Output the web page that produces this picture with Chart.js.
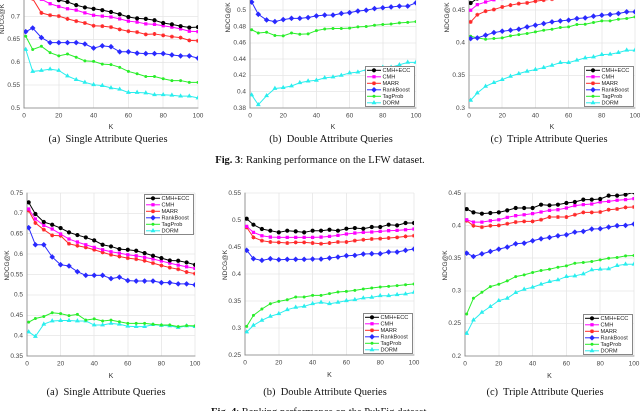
<!DOCTYPE html>
<html><head><meta charset="utf-8">
<script src="https://cdn.jsdelivr.net/npm/chart.js@4.4.1/dist/chart.umd.min.js"></script>
<style>
html,body{margin:0;padding:0;background:#fff;width:640px;height:411px;overflow:hidden;position:relative;}
canvas{position:absolute;}
.cap{position:absolute;font-family:"Liberation Serif","Times New Roman",serif;font-size:10.5px;color:#111;white-space:nowrap;transform:translate(-50%,-50%);z-index:5;}
</style></head><body>
<canvas id="c1"></canvas><canvas id="c2"></canvas><canvas id="c3"></canvas>
<canvas id="c4"></canvas><canvas id="c5"></canvas><canvas id="c6"></canvas>
<div class="cap" style="left:108px;top:138px">(a)&nbsp; Single Attribute Queries</div>
<div class="cap" style="left:331px;top:138px">(b)&nbsp; Double Attribute Queries</div>
<div class="cap" style="left:549px;top:138px">(c)&nbsp; Triple Attribute Queries</div>
<div class="cap" style="left:320px;top:159px"><b>Fig. 3</b>: Ranking performance on the LFW dataset.</div>
<div class="cap" style="left:106px;top:391px">(a)&nbsp; Single Attribute Queries</div>
<div class="cap" style="left:325px;top:391px">(b)&nbsp; Double Attribute Queries</div>
<div class="cap" style="left:545px;top:391px">(c)&nbsp; Triple Attribute Queries</div>
<div class="cap" style="left:320px;top:411px"><b>Fig. 4</b>: Ranking performance on the PubFig dataset.</div>
<script>
const K = [1,5,10,15,20,25,30,35,40,45,50,55,60,65,70,75,80,85,90,95,100];
const xTicks = [0,20,40,60,80,100];
const seriesNames = ['CMH+ECC','CMH','MARR','RankBoost','TagProb','DORM'];

// Fig.3 LFW - single
const lfwSingleCmhEcc = [0.800,0.775,0.757,0.745,0.736,0.732,0.725,0.720,0.717,0.714,0.710,0.705,0.699,0.696,0.695,0.692,0.686,0.683,0.679,0.676,0.677];
const lfwSingleCmh = [0.780,0.755,0.738,0.728,0.722,0.717,0.714,0.708,0.703,0.701,0.699,0.695,0.690,0.688,0.684,0.683,0.680,0.677,0.673,0.668,0.667];
const lfwSingleMarr = [0.768,0.739,0.708,0.703,0.701,0.695,0.690,0.686,0.680,0.679,0.677,0.672,0.668,0.666,0.661,0.662,0.659,0.656,0.654,0.648,0.647];
const lfwSingleRankBoost = [0.667,0.675,0.654,0.643,0.643,0.643,0.643,0.640,0.631,0.636,0.634,0.623,0.623,0.620,0.619,0.619,0.619,0.616,0.614,0.614,0.609];
const lfwSingleTagProb = [0.657,0.628,0.635,0.621,0.614,0.618,0.611,0.603,0.602,0.596,0.595,0.589,0.580,0.575,0.569,0.569,0.564,0.560,0.560,0.556,0.556];
const lfwSingleDorm = [0.628,0.580,0.582,0.585,0.582,0.570,0.562,0.556,0.551,0.549,0.544,0.541,0.534,0.534,0.533,0.529,0.529,0.528,0.526,0.526,0.522];
const lfwSingleYTicks = [0.5,0.55,0.6,0.65,0.7,0.75,0.8,0.85];

// Fig.3 LFW - double
const lfwDoubleCmhEcc = [0.565,0.555,0.548,0.546,0.547,0.548,0.549,0.550,0.551,0.552,0.553,0.554,0.555,0.556,0.557,0.558,0.559,0.560,0.561,0.562,0.564];
const lfwDoubleCmh = [0.557,0.547,0.540,0.538,0.539,0.540,0.541,0.542,0.543,0.544,0.545,0.546,0.547,0.548,0.549,0.550,0.551,0.552,0.553,0.554,0.556];
const lfwDoubleMarr = [0.550,0.540,0.533,0.531,0.532,0.533,0.534,0.535,0.536,0.537,0.538,0.539,0.540,0.541,0.542,0.543,0.544,0.545,0.546,0.547,0.549];
const lfwDoubleRankBoost = [0.510,0.495,0.488,0.486,0.4885,0.490,0.490,0.491,0.493,0.494,0.494,0.496,0.497,0.499,0.500,0.502,0.503,0.504,0.505,0.505,0.509];
const lfwDoubleTagProb = [0.476,0.472,0.473,0.469,0.4685,0.472,0.4705,0.471,0.475,0.477,0.4775,0.4775,0.478,0.4795,0.480,0.4816,0.4824,0.483,0.4844,0.485,0.486];
const lfwDoubleDorm = [0.396,0.384,0.395,0.404,0.405,0.407,0.411,0.413,0.414,0.417,0.418,0.420,0.423,0.424,0.427,0.4275,0.430,0.430,0.433,0.436,0.436];
const lfwDoubleYTicks = [0.38,0.4,0.42,0.44,0.46,0.48,0.5,0.52,0.54,0.56,0.58];

// Fig.3 LFW - triple
const lfwTripleCmhEcc = [0.461,0.468,0.472,0.475,0.477,0.479,0.481,0.483,0.485,0.487,0.488,0.489,0.490,0.492,0.493,0.494,0.496,0.497,0.498,0.499,0.500];
const lfwTripleCmh = [0.450,0.4585,0.4625,0.466,0.468,0.470,0.472,0.474,0.476,0.477,0.478,0.480,0.481,0.482,0.484,0.485,0.486,0.487,0.488,0.489,0.490];
const lfwTripleMarr = [0.432,0.443,0.4485,0.451,0.455,0.4577,0.460,0.4613,0.4638,0.4654,0.467,0.469,0.470,0.472,0.473,0.474,0.476,0.477,0.478,0.479,0.481];
const lfwTripleRankBoost = [0.4065,0.4075,0.4116,0.4157,0.4178,0.4193,0.4208,0.4244,0.427,0.4295,0.4321,0.4336,0.4347,0.4372,0.4382,0.4408,0.4423,0.4434,0.4449,0.4475,0.4475];
const lfwTripleTagProb = [0.410,0.4075,0.4055,0.4065,0.4075,0.4106,0.4126,0.4142,0.4167,0.4193,0.4208,0.4234,0.4244,0.428,0.4285,0.4311,0.4336,0.4336,0.4362,0.4372,0.4398];
const lfwTripleDorm = [0.3118,0.323,0.3333,0.3389,0.3435,0.3486,0.3527,0.3563,0.3589,0.362,0.3655,0.3696,0.3696,0.3732,0.3768,0.3783,0.3819,0.3824,0.385,0.3886,0.3886];
const lfwTripleYTicks = [0.3,0.35,0.4,0.45,0.5,0.55];

// Fig.4 PubFig - single
const pubSingleCmhEcc = [0.727,0.6985,0.6788,0.6722,0.664,0.6534,0.6468,0.641,0.6337,0.623,0.6189,0.6124,0.6107,0.6083,0.6025,0.596,0.5902,0.5845,0.5837,0.5796,0.5738];
const pubSingleCmh = [0.7108,0.6862,0.6706,0.6616,0.6493,0.637,0.6296,0.623,0.6165,0.6107,0.6058,0.6025,0.5984,0.596,0.592,0.588,0.583,0.578,0.573,0.569,0.565];
const pubSingleMarr = [0.7067,0.6763,0.66,0.646,0.6452,0.6255,0.6206,0.6165,0.6107,0.6042,0.5984,0.5943,0.5902,0.5878,0.5837,0.578,0.572,0.567,0.563,0.556,0.552];
const pubSingleRankBoost = [0.665,0.623,0.623,0.593,0.574,0.571,0.557,0.548,0.548,0.548,0.540,0.5435,0.535,0.534,0.534,0.534,0.530,0.530,0.527,0.527,0.5246];
const pubSingleTagProb = [0.433,0.442,0.447,0.456,0.454,0.449,0.452,0.438,0.441,0.436,0.438,0.434,0.430,0.430,0.430,0.428,0.426,0.426,0.422,0.4246,0.4238];
const pubSingleDorm = [0.409,0.398,0.428,0.436,0.437,0.437,0.436,0.436,0.426,0.426,0.430,0.428,0.423,0.422,0.422,0.427,0.425,0.424,0.420,0.424,0.422];
const pubSingleYTicks = [0.35,0.4,0.45,0.5,0.55,0.6,0.65,0.7,0.75];

// Fig.4 PubFig - double
const pubDoubleCmhEcc = [0.5024,0.4913,0.4833,0.4802,0.4771,0.4802,0.4789,0.4771,0.4802,0.4802,0.482,0.4802,0.4839,0.4851,0.4839,0.487,0.487,0.4913,0.49,0.4944,0.4944];
const pubDoubleCmh = [0.4882,0.4771,0.4709,0.4684,0.4678,0.4678,0.4678,0.4678,0.4678,0.4684,0.4697,0.4715,0.474,0.4758,0.4771,0.4777,0.4789,0.4802,0.4808,0.482,0.4833];
const pubDoubleMarr = [0.4863,0.4678,0.4617,0.4592,0.4586,0.4573,0.4586,0.4586,0.4573,0.4561,0.4573,0.4592,0.4592,0.4617,0.4635,0.4648,0.4654,0.4666,0.4678,0.4697,0.4709];
const pubDoubleRankBoost = [0.4438,0.4283,0.4253,0.4283,0.4265,0.4271,0.4271,0.4271,0.4277,0.4277,0.4296,0.4314,0.4339,0.4345,0.437,0.4376,0.4376,0.4407,0.4407,0.4438,0.4462];
const pubDoubleTagProb = [0.3031,0.3234,0.3352,0.345,0.3494,0.3524,0.3574,0.3574,0.3605,0.3605,0.3636,0.3666,0.3679,0.3697,0.3722,0.374,0.3759,0.3771,0.3784,0.3802,0.3814];
const pubDoubleDorm = [0.2926,0.3049,0.3142,0.3216,0.3265,0.3339,0.3383,0.3401,0.345,0.3475,0.345,0.3475,0.3506,0.3524,0.3555,0.3568,0.3598,0.3598,0.3617,0.3629,0.366];
const pubDoubleYTicks = [0.25,0.3,0.35,0.4,0.45,0.5,0.55];

// Fig.4 PubFig - triple
const pubTripleCmhEcc = [0.4254,0.4203,0.4183,0.4193,0.4203,0.4234,0.427,0.427,0.427,0.4321,0.4311,0.4321,0.4347,0.4362,0.4398,0.4398,0.4408,0.446,0.446,0.4475,0.4511];
const pubTripleCmh = [0.409,0.4054,0.4054,0.4075,0.409,0.4126,0.4152,0.4167,0.4183,0.4208,0.4234,0.4244,0.427,0.4306,0.4321,0.4331,0.4362,0.4372,0.4388,0.4398,0.4413];
const pubTripleMarr = [0.4075,0.3998,0.3977,0.3998,0.4003,0.4029,0.4054,0.4065,0.4065,0.409,0.4131,0.4131,0.4131,0.4167,0.4203,0.4203,0.4208,0.4244,0.4254,0.428,0.4285];
const pubTripleRankBoost = [0.3577,0.3526,0.3567,0.3603,0.3639,0.367,0.3721,0.3731,0.3767,0.3798,0.3818,0.3844,0.3859,0.39,0.3911,0.3947,0.3952,0.3977,0.3998,0.4003,0.4024];
const pubTripleTagProb = [0.2644,0.2885,0.2977,0.3064,0.31,0.3152,0.3218,0.3244,0.328,0.3311,0.3331,0.3362,0.3382,0.3423,0.3434,0.3449,0.3475,0.35,0.3511,0.3536,0.3541];
const pubTripleDorm = [0.2346,0.2551,0.2669,0.2757,0.2849,0.2885,0.2972,0.3023,0.3054,0.31,0.3141,0.3167,0.3218,0.3228,0.3259,0.3321,0.3331,0.3336,0.3387,0.3408,0.3408];
const pubTripleYTicks = [0.2,0.25,0.3,0.35,0.4,0.45];

// styles
const seriesColors = ['#000000','#ff00ff','#ff2a2a','#2a2aff','#2aee2a','#2aeeee'];
const markerStyles = ['circle','rect','star','rectRot','circle','triangle'];
const markerRadius = [1.6,1.6,2,2.1,1,1.8];

const FONT = '"Liberation Sans", Arial, sans-serif';

const boxLegend = {
  id: 'boxLegend',
  afterDatasetsDraw(chart, args, opts) {
    const ctx = chart.ctx, ca = chart.chartArea;
    const w = 50, h = 41;
    const x = ca.right - w - 1;
    const y = opts.corner === 'tr' ? ca.top + 1 : ca.bottom - h - 1;
    ctx.save();
    ctx.fillStyle = '#fff';
    ctx.fillRect(x, y, w, h);
    ctx.strokeStyle = '#555';
    ctx.lineWidth = 0.7;
    ctx.strokeRect(x + 0.5, y + 0.5, w - 1, h - 1);
    chart.data.datasets.forEach((ds, i) => {
      const cy = y + 4.3 + i * 6.5;
      ctx.strokeStyle = ds.borderColor;
      ctx.fillStyle = ds.borderColor;
      ctx.lineWidth = 1;
      ctx.beginPath(); ctx.moveTo(x + 2, cy); ctx.lineTo(x + 16, cy); ctx.stroke();
      Chart.helpers.drawPoint(ctx, {pointStyle: ds.pointStyle, radius: ds.pointRadius, borderWidth: 1, rotation: 0}, x + 9, cy);
      ctx.fillStyle = '#222';
      ctx.font = '5.6px ' + FONT;
      ctx.textBaseline = 'middle';
      ctx.textAlign = 'left';
      ctx.fillText(ds.label, x + 17.5, cy + 0.3);
    });
    ctx.restore();
  }
};

const axisTitles = {
  id: 'axisTitles',
  afterDraw(chart, args, opts) {
    const ctx = chart.ctx, ca = chart.chartArea;
    ctx.save();
    ctx.fillStyle = '#333';
    ctx.font = '7px ' + FONT;
    ctx.textAlign = 'center';
    ctx.textBaseline = 'middle';
    ctx.fillText('K', (ca.left + ca.right) / 2, ca.bottom + opts.kOffset);
    ctx.font = '6.5px ' + FONT;
    ctx.translate(ca.left - opts.yOffset, (ca.top + ca.bottom) / 2 - 9);
    ctx.rotate(-Math.PI / 2);
    ctx.fillText('NDCG@K', 0, 0);
    ctx.restore();
  }
};

function makeChart(id, P) {
  const cv = document.getElementById(id);
  const W = P.R - P.L + 46, H = P.B - P.T + 34;
  cv.width = W; cv.height = H;
  cv.style.left = (P.L - 40) + 'px';
  cv.style.top = (P.T - 4) + 'px';
  cv.style.width = W + 'px';
  cv.style.height = H + 'px';
  const datasets = P.series.map((arr, i) => ({
    label: seriesNames[i],
    data: K.map((k, j) => ({x: k, y: arr[j]})),
    borderColor: seriesColors[i],
    backgroundColor: seriesColors[i],
    borderWidth: 1,
    pointStyle: markerStyles[i],
    pointRadius: markerRadius[i],
    pointBorderWidth: 1,
    pointHoverRadius: markerRadius[i],
    tension: 0
  }));
  const fixFit = (w, h) => (s) => {
    if (w !== null) s.width = w;
    if (h !== null) s.height = h;
    s.paddingLeft = 0; s.paddingRight = 0; s.paddingTop = 0; s.paddingBottom = 0;
  };
  const tickFmt = (v) => String(parseFloat(Number(v).toFixed(3)));
  new Chart(cv, {
    type: 'line',
    data: {datasets},
    options: {
      responsive: false,
      animation: false,
      devicePixelRatio: 2,
      events: [],
      layout: {padding: {left: 0, top: 4, right: 6, bottom: 0}},
      plugins: {
        legend: {display: false},
        tooltip: {enabled: false},
        boxLegend: {corner: P.corner},
        axisTitles: {kOffset: P.kOff, yOffset: P.yOff}
      },
      scales: {
        x: {
          type: 'linear', min: 0, max: 100,
          afterBuildTicks: (s) => { s.ticks = xTicks.map(v => ({value: v})); },
          afterFit: fixFit(null, 30),
          grid: {color: '#e6e6e6', lineWidth: 0.8, drawTicks: false},
          border: {display: true, color: '#808080', width: 0.8},
          ticks: {font: {family: FONT, size: 6.5}, color: '#444', padding: 4, maxRotation: 0, autoSkip: false, callback: tickFmt}
        },
        y: {
          type: 'linear', min: P.yTicks[0], max: P.yTicks[P.yTicks.length - 1],
          afterBuildTicks: (s) => { s.ticks = P.yTicks.map(v => ({value: v})); },
          afterFit: fixFit(40, null),
          grid: {color: '#e6e6e6', lineWidth: 0.8, drawTicks: false},
          border: {display: true, color: '#808080', width: 0.8},
          ticks: {font: {family: FONT, size: 6.5}, color: '#444', padding: 4, autoSkip: false, callback: tickFmt}
        }
      }
    },
    plugins: [boxLegend, axisTitles]
  });
}

makeChart('c1', {L: 24, R: 198, T: -52, B: 108, yTicks: lfwSingleYTicks, corner: 'tr', kOff: 19, yOff: 22,
  series: [lfwSingleCmhEcc, lfwSingleCmh, lfwSingleMarr, lfwSingleRankBoost, lfwSingleTagProb, lfwSingleDorm]});
makeChart('c2', {L: 250, R: 416, T: -55, B: 108, yTicks: lfwDoubleYTicks, corner: 'br', kOff: 19, yOff: 22,
  series: [lfwDoubleCmhEcc, lfwDoubleCmh, lfwDoubleMarr, lfwDoubleRankBoost, lfwDoubleTagProb, lfwDoubleDorm]});
makeChart('c3', {L: 469, R: 635, T: -55, B: 108, yTicks: lfwTripleYTicks, corner: 'br', kOff: 19, yOff: 22,
  series: [lfwTripleCmhEcc, lfwTripleCmh, lfwTripleMarr, lfwTripleRankBoost, lfwTripleTagProb, lfwTripleDorm]});
makeChart('c4', {L: 27, R: 195, T: 193, B: 356, yTicks: pubSingleYTicks, corner: 'tr', kOff: 20, yOff: 20,
  series: [pubSingleCmhEcc, pubSingleCmh, pubSingleMarr, pubSingleRankBoost, pubSingleTagProb, pubSingleDorm]});
makeChart('c5', {L: 245, R: 414, T: 193, B: 355, yTicks: pubDoubleYTicks, corner: 'br', kOff: 20, yOff: 20,
  series: [pubDoubleCmhEcc, pubDoubleCmh, pubDoubleMarr, pubDoubleRankBoost, pubDoubleTagProb, pubDoubleDorm]});
makeChart('c6', {L: 465, R: 634, T: 193, B: 356, yTicks: pubTripleYTicks, corner: 'br', kOff: 20, yOff: 20,
  series: [pubTripleCmhEcc, pubTripleCmh, pubTripleMarr, pubTripleRankBoost, pubTripleTagProb, pubTripleDorm]});
</script>
</body></html>
